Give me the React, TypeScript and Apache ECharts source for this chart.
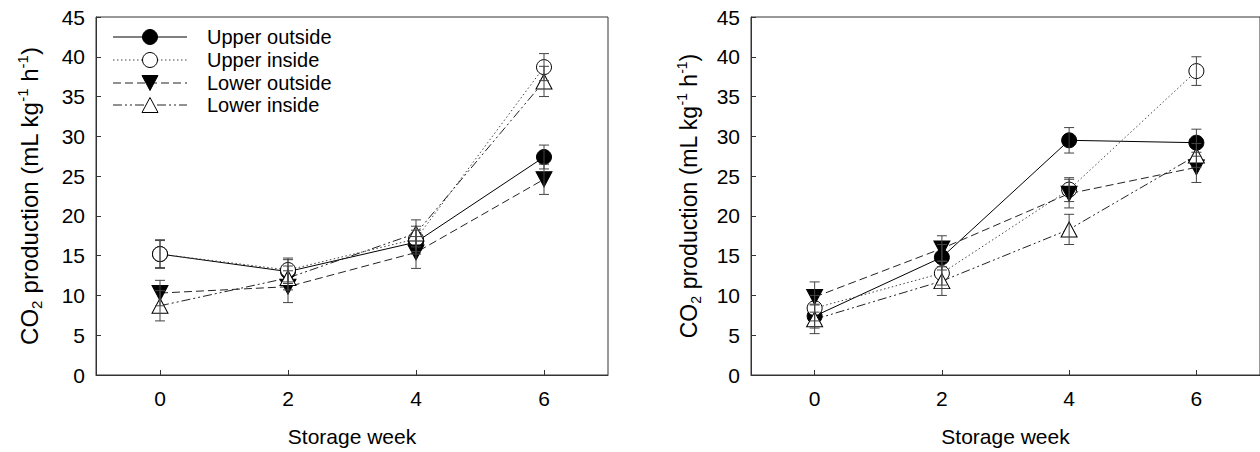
import React, { useEffect, useRef } from "react";
import * as echarts from "echarts";

const weeks = [0, 2, 4, 6];
const weekTicks = [0, 2, 4, 6];
const seriesNames = ["Upper outside", "Upper inside", "Lower outside", "Lower inside"];

// Left panel
const leftUpperOutside = [15.2, 13.0, 16.7, 27.4];
const leftUpperOutsideErr = [1.7, 1.5, 1.5, 1.5];
const leftUpperInside = [15.2, 13.2, 17.1, 38.7];
const leftUpperInsideErr = [1.8, 1.5, 1.6, 1.7];
const leftLowerOutside = [10.3, 11.1, 15.4, 24.6];
const leftLowerOutsideErr = [1.6, 2.0, 2.0, 1.9];
const leftLowerInside = [8.7, 12.2, 17.8, 36.9];
const leftLowerInsideErr = [1.9, 1.5, 1.7, 1.9];

// Right panel
const rightUpperOutside = [7.4, 14.8, 29.5, 29.2];
const rightUpperOutsideErr = [1.5, 1.6, 1.6, 1.7];
const rightUpperInside = [8.4, 12.8, 23.3, 38.2];
const rightUpperInsideErr = [1.6, 1.5, 1.5, 1.8];
const rightLowerOutside = [9.8, 15.9, 22.8, 26.1];
const rightLowerOutsideErr = [1.9, 1.6, 1.8, 1.9];
const rightLowerInside = [7.0, 11.8, 18.3, 27.6];
const rightLowerInsideErr = [1.8, 1.8, 1.9, 1.5];

const FONT = "Arial, 'Liberation Sans', sans-serif";

const styles = [
  { symbol: "circle", size: 15, rotate: 0, fill: "#000", dash: "solid" as any, lineColor: "#000" },
  { symbol: "circle", size: 15, rotate: 0, fill: "#fff", dash: [1.5, 2.5], lineColor: "#444" },
  { symbol: "triangle", size: [16, 15], rotate: 180, fill: "#000", dash: [8, 4], lineColor: "#222" },
  { symbol: "triangle", size: [16, 15], rotate: 0, fill: "#fff", dash: [9, 3, 2, 3, 2, 3], lineColor: "#222" },
];

function errorRender(params: any, api: any) {
  const x = api.value(0);
  const lo = api.value(1);
  const hi = api.value(2);
  const pLo = api.coord([x, lo]);
  const pHi = api.coord([x, hi]);
  const hw = 5;
  const style = { stroke: "#444", lineWidth: 1 };
  return {
    type: "group",
    children: [
      { type: "line", shape: { x1: pLo[0], y1: pLo[1], x2: pHi[0], y2: pHi[1] }, style },
      { type: "line", shape: { x1: pLo[0] - hw, y1: pLo[1], x2: pLo[0] + hw, y2: pLo[1] }, style },
      { type: "line", shape: { x1: pHi[0] - hw, y1: pHi[1], x2: pHi[0] + hw, y2: pHi[1] }, style },
    ],
  };
}

const yName = "{n|CO}{sub|2}{n| production (mL kg}{sup|-1}{n| h}{sup|-1}{n|)}";
function yRich(size: number) {
  const small = Math.round(size * 0.62);
  return {
    n: { fontSize: size, fontFamily: FONT, color: "#000", lineHeight: size + 5 },
    sub: { fontSize: small, fontFamily: FONT, color: "#000", lineHeight: small, verticalAlign: "bottom" },
    sup: { fontSize: small, fontFamily: FONT, color: "#000", lineHeight: small, verticalAlign: "top" },
  };
}

function makeXAxis(idx: number) {
  return {
    type: "value",
    gridIndex: idx,
    min: -1,
    max: 7,
    name: "Storage week",
    nameLocation: "middle",
    nameGap: 51,
    nameTextStyle: { fontSize: 21, fontFamily: FONT, color: "#000" },
    axisLine: { show: true, onZero: false, lineStyle: { color: "#333", width: 1 } },
    axisTick: { show: true, inside: true, length: 5, customValues: weekTicks, lineStyle: { color: "#333" } },
    axisLabel: { customValues: weekTicks, fontSize: 21, fontFamily: FONT, color: "#000", margin: 13 },
    splitLine: { show: false },
  };
}

function makeYAxis(idx: number, gap: number, size: number) {
  return {
    type: "value",
    gridIndex: idx,
    min: 0,
    max: 45,
    interval: 5,
    name: yName,
    nameLocation: "middle",
    nameGap: gap,
    nameRotate: 90,
    nameTextStyle: { rich: yRich(size) },
    axisLine: { show: true, onZero: false, lineStyle: { color: "#333", width: 1 } },
    axisTick: { show: true, inside: true, length: 5, lineStyle: { color: "#333" } },
    axisLabel: { fontSize: 21, fontFamily: FONT, color: "#000", margin: 11 },
    splitLine: { show: false },
  };
}

function panelSeries(idx: number, vals: number[][], errs: number[][]) {
  const out: any[] = [];
  vals.forEach((v, s) => {
    const st = styles[s];
    out.push({
      type: "line",
      name: seriesNames[s],
      xAxisIndex: idx,
      yAxisIndex: idx,
      data: weeks.map((w, i) => [w, v[i]]),
      symbol: st.symbol,
      symbolSize: st.size,
      symbolRotate: st.rotate,
      showAllSymbol: true,
      lineStyle: { color: st.lineColor, width: 1, type: st.dash },
      itemStyle: { color: st.fill, borderColor: "#000", borderWidth: 1 },
      z: 2,
      silent: true,
    });
  });
  vals.forEach((v, s) => {
    out.push({
      type: "custom",
      name: seriesNames[s] + " error",
      xAxisIndex: idx,
      yAxisIndex: idx,
      coordinateSystem: "cartesian2d",
      data: weeks.map((w, i) => [w, v[i] - errs[s][i], v[i] + errs[s][i]]),
      encode: { x: 0, y: [1, 2] },
      renderItem: errorRender,
      z: 4,
      silent: true,
    });
  });
  return out;
}

function legendGraphics() {
  const rows = [37, 60, 83, 105];
  const els: any[] = [];
  rows.forEach((y, i) => {
    const st = styles[i];
    els.push({
      type: "line",
      shape: { x1: 113, y1: y, x2: 187, y2: y },
      style: { stroke: st.lineColor, lineWidth: 1, lineDash: Array.isArray(st.dash) ? st.dash : null },
      z: 10,
    });
    if (st.symbol === "circle") {
      els.push({ type: "circle", shape: { cx: 150, cy: y, r: 7.5 }, style: { fill: st.fill, stroke: "#000", lineWidth: 1 }, z: 11 });
    } else if (st.rotate === 180) {
      els.push({ type: "polygon", shape: { points: [[142, y - 7.5], [158, y - 7.5], [150, y + 7.5]] }, style: { fill: st.fill, stroke: "#000", lineWidth: 1 }, z: 11 });
    } else {
      els.push({ type: "polygon", shape: { points: [[150, y - 7.5], [158, y + 7.5], [142, y + 7.5]] }, style: { fill: st.fill, stroke: "#000", lineWidth: 1 }, z: 11 });
    }
    els.push({
      type: "text",
      x: 207,
      y: y,
      style: { text: seriesNames[i], fontSize: 20, fontFamily: FONT, fill: "#000", verticalAlign: "middle", align: "left" },
      z: 11,
    });
  });
  return els;
}

export default function App() {
  const ref = useRef<HTMLDivElement>(null);
  useEffect(() => {
    if (!ref.current) return;
    const chart = echarts.init(ref.current, undefined, { renderer: "svg" });
    const option: any = {
      animation: false,
      backgroundColor: "#fff",
      grid: [
        { left: 96, top: 17, width: 512, height: 360, show: true, borderColor: "#333", borderWidth: 1, backgroundColor: "transparent" },
        { left: 751, top: 17, width: 512, height: 360, show: true, borderColor: "#333", borderWidth: 1, backgroundColor: "transparent" },
      ],
      xAxis: [makeXAxis(0), makeXAxis(1)],
      yAxis: [makeYAxis(0, 52, 24), makeYAxis(1, 48, 23)],
      series: [
        ...panelSeries(
          0,
          [leftUpperOutside, leftUpperInside, leftLowerOutside, leftLowerInside],
          [leftUpperOutsideErr, leftUpperInsideErr, leftLowerOutsideErr, leftLowerInsideErr]
        ),
        ...panelSeries(
          1,
          [rightUpperOutside, rightUpperInside, rightLowerOutside, rightLowerInside],
          [rightUpperOutsideErr, rightUpperInsideErr, rightLowerOutsideErr, rightLowerInsideErr]
        ),
      ],
      graphic: legendGraphics(),
    };
    chart.setOption(option);
    return () => chart.dispose();
  }, []);
  return <div ref={ref} style={{ position: "fixed", left: 0, top: 0, width: 1260, height: 452 }} />;
}
